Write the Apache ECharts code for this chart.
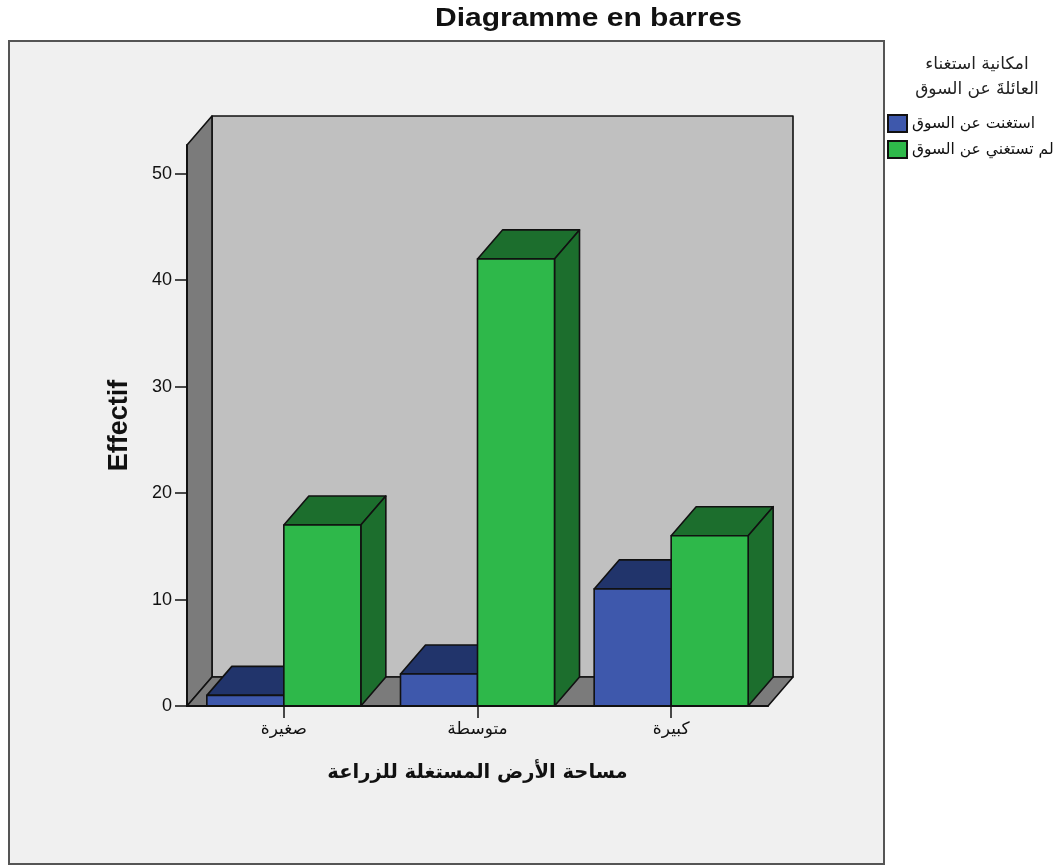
<!DOCTYPE html>
<html>
<head>
<meta charset="utf-8">
<title>Diagramme en barres</title>
<script src="https://cdn.jsdelivr.net/npm/echarts@6/dist/echarts.min.js"></script>
<style>
html, body { margin: 0; padding: 0; background: #fff; }
#content { width: 1053px; height: 866px; }
</style>
</head>
<body>
<div id="content"></div>
<script>
// 数据
var categories = ["صغيرة", "متوسطة", "كبيرة"];
var seriesNames = ["استغنت عن السوق", "لم تستغني عن السوق"];
var blueValues = [1, 3, 11];
var greenValues = [17, 42, 16];
var yTicks = [0, 10, 20, 30, 40, 50];
var yMax = 52.7;

var chartTitle = "Diagramme en barres";
var legendTitle = "امكانية استغناء\nالعائلةَ عن السوق";
var xName = "مساحة الأرض المستغلة للزراعة";
var yName = "Effectif";

// 3D 偏移
var depthX = 25;
var depthY = 29;
var barRatio = 0.3976;
var edge = { stroke: "#111", lineWidth: 1.6 };
var latin = "Liberation Sans";
var arabic = "DejaVu Sans";

function poly(points, fill) {
    return {
        type: "polygon",
        shape: { points: points },
        style: { fill: fill, stroke: edge.stroke, lineWidth: edge.lineWidth, lineJoin: "round" }
    };
}

function renderWalls(params, api) {
    var cs = params.coordSys;
    var l = cs.x, r = cs.x + cs.width, t = cs.y, b = cs.y + cs.height;
    return {
        type: "group",
        children: [
            poly([[l + depthX, t - depthY], [r + depthX, t - depthY], [r + depthX, b - depthY], [l + depthX, b - depthY]], "#c0c0c0"),
            poly([[l, t], [l + depthX, t - depthY], [l + depthX, b - depthY], [l, b]], "#7b7b7b"),
            poly([[l, b], [l + depthX, b - depthY], [r + depthX, b - depthY], [r, b]], "#7b7b7b")
        ]
    };
}

// side: -1 左边的柱子, 0 右边的柱子
function barRenderer(side, front, dark) {
    return function(params, api) {
        var top = api.coord([api.value(0), api.value(1)]);
        var base = api.coord([api.value(0), 0]);
        var w = api.size([1, 0])[0] * barRatio;
        var x0 = top[0] + side * w;
        var x1 = x0 + w;
        var y0 = top[1];
        var y1 = base[1];
        return {
            type: "group",
            children: [
                poly([[x0, y0], [x0 + depthX, y0 - depthY], [x1 + depthX, y0 - depthY], [x1, y0]], dark),
                poly([[x1, y0], [x1 + depthX, y0 - depthY], [x1 + depthX, y1 - depthY], [x1, y1]], dark),
                poly([[x0, y0], [x1, y0], [x1, y1], [x0, y1]], front)
            ]
        };
    };
}

function pairs(values) {
    return values.map(function(v, i) { return [i, v]; });
}

var myChart = echarts.init(document.getElementById("content"), null, { renderer: "canvas" });

myChart.setOption({
    animation: false,
    backgroundColor: "#ffffff",
    title: [{
        text: legendTitle,
        left: 972,
        top: 47,
        textAlign: "center",
        textStyle: { fontFamily: arabic, fontSize: 17, fontWeight: "normal", color: "#222", lineHeight: 25, align: "center" }
    }],
    graphic: [{
        type: "rect",
        z: -10,
        shape: { x: 9, y: 41, width: 875, height: 823 },
        style: { fill: "#f0f0f0", stroke: "#555", lineWidth: 2 }
    }, {
        // 原图的标题是横向拉伸过的
        type: "text",
        x: 435,
        y: 7,
        scaleX: 1.2,
        style: { text: chartTitle, fontFamily: latin, fontSize: 25, fontWeight: "bold", fill: "#111" }
    }],
    legend: {
        orient: "vertical",
        left: 887,
        top: 114,
        padding: 0,
        itemWidth: 19,
        itemHeight: 17,
        itemGap: 7,
        icon: "rect",
        data: seriesNames,
        textStyle: { fontFamily: arabic, fontSize: 15.5, color: "#111" }
    },
    grid: { left: 187, right: 285, top: 145, bottom: 160, containLabel: false },
    xAxis: {
        type: "category",
        data: categories,
        z: 5,
        name: xName,
        nameLocation: "middle",
        nameGap: 57,
        nameTextStyle: { fontFamily: arabic, fontSize: 19.5, fontWeight: "bold", color: "#111" },
        axisLine: { lineStyle: { color: "#111", width: 2 } },
        axisTick: { show: true, alignWithLabel: true, length: 12, lineStyle: { color: "#111", width: 1.5 } },
        axisLabel: { fontFamily: arabic, fontSize: 17, color: "#111", margin: 15 }
    },
    yAxis: {
        type: "value",
        min: 0,
        max: yMax,
        z: 5,
        name: yName,
        nameLocation: "middle",
        nameRotate: 90,
        nameGap: 54,
        nameTextStyle: { fontFamily: latin, fontSize: 27, fontWeight: "bold", color: "#111" },
        splitLine: { show: false },
        axisLine: { show: true, lineStyle: { color: "#111", width: 2 } },
        axisTick: { show: true, length: 12, customValues: yTicks, lineStyle: { color: "#111", width: 1.5 } },
        axisLabel: { fontFamily: latin, fontSize: 18, color: "#111", margin: 15, customValues: yTicks }
    },
    series: [{
        type: "custom",
        name: "walls",
        z: 1,
        silent: true,
        clip: false,
        data: [[0, 0]],
        renderItem: renderWalls
    }, {
        type: "custom",
        name: seriesNames[0],
        z: 2,
        clip: false,
        itemStyle: { color: "#3e58ac", borderColor: "#111", borderWidth: 2 },
        encode: { x: 0, y: 1 },
        data: pairs(blueValues),
        renderItem: barRenderer(-1, "#3e58ac", "#21346b")
    }, {
        type: "custom",
        name: seriesNames[1],
        z: 3,
        clip: false,
        itemStyle: { color: "#2eb84a", borderColor: "#111", borderWidth: 2 },
        encode: { x: 0, y: 1 },
        data: pairs(greenValues),
        renderItem: barRenderer(0, "#2eb84a", "#1c6e2d")
    }]
});
</script>
</body>
</html>
